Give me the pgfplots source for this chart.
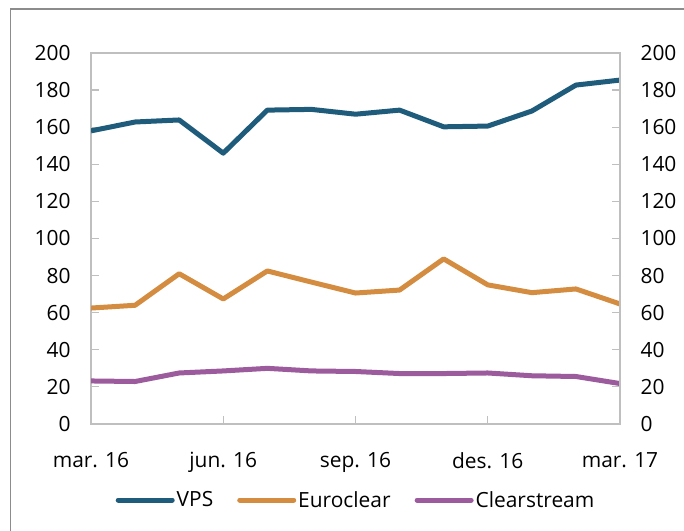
\documentclass[border=0pt]{standalone}
\usepackage{pgfplots}
\pgfplotsset{compat=1.18}
\usepackage{fontspec}
\setmainfont{Open Sans}

\definecolor{vps}{HTML}{1F5B7A}
\definecolor{euro}{HTML}{D48C41}
\definecolor{clear}{HTML}{9B5B9C}
\definecolor{axgray}{HTML}{BFBFBF}
\definecolor{framegray}{HTML}{8C8C8C}

\begin{document}
\begin{tikzpicture}[x=1bp,y=1bp]
\path[use as bounding box] (0,0) rectangle (684,531);
\draw[framegray, line width=1.5bp] (10.5,-5) -- (10.5,522) -- (690,522);

\pgfplotsset{
  common/.style={
    at={(91bp,107bp)}, anchor=south west,
    scale only axis, width=529bp, height=371bp,
    xmin=0, xmax=12, ymin=0, ymax=200,
    ytick={0,20,...,200},
    tick align=inside,
    axis line style={axgray, line width=1.2bp},
    major tick style={axgray, line width=1.2bp},
    major tick length=8bp,
    tick label style={font=\fontsize{21}{24}\selectfont, text=black},
    /pgf/number format/assume math mode=true,
  }
}

\begin{axis}[common,
  xtick={0,3,6,9,12},
  xticklabels={mar. 16, jun. 16, sep. 16, des. 16, mar. 17},
  xticklabel style={yshift=-25bp},
  yticklabel style={xshift=-17bp},
  xtick pos=bottom, ytick pos=left,
  legend columns=3,
  legend style={at={(0.501,-0.205)}, anchor=center, draw=none, fill=none,
    font=\fontsize{21}{24}\selectfont,
    /tikz/every even column/.append style={column sep=22bp}},
  legend image code/.code={\draw[#1, line width=5bp, line cap=round] (0bp,0bp) -- (54bp,0bp);},
]
\addplot[vps, line width=5bp, line join=round] coordinates {
(0,158) (1,162.8) (2,163.9) (3,146) (4,169.2) (5,169.6) (6,167) (7,169.2)
(8,160.2) (9,160.6) (10,168.7) (11,182.7) (12,185.4)};
\addlegendentry{VPS}
\addplot[euro, line width=5bp, line join=round] coordinates {
(0,62.5) (1,64) (2,81) (3,67.4) (4,82.5) (5,76.5) (6,70.6) (7,72.2)
(8,89) (9,75) (10,70.8) (11,72.8) (12,64.7)};
\addlegendentry{Euroclear}
\addplot[clear, line width=5bp, line join=round] coordinates {
(0,23.2) (1,22.9) (2,27.5) (3,28.6) (4,30) (5,28.6) (6,28.3) (7,27.2)
(8,27.2) (9,27.5) (10,26) (11,25.6) (12,21.8)};
\addlegendentry{Clearstream}
\end{axis}

\begin{axis}[common,
  hide x axis,
  axis y line*=right,
  ytick pos=right, yticklabel pos=right,
  yticklabel style={xshift=17bp},
]
\end{axis}
\end{tikzpicture}
\end{document}
